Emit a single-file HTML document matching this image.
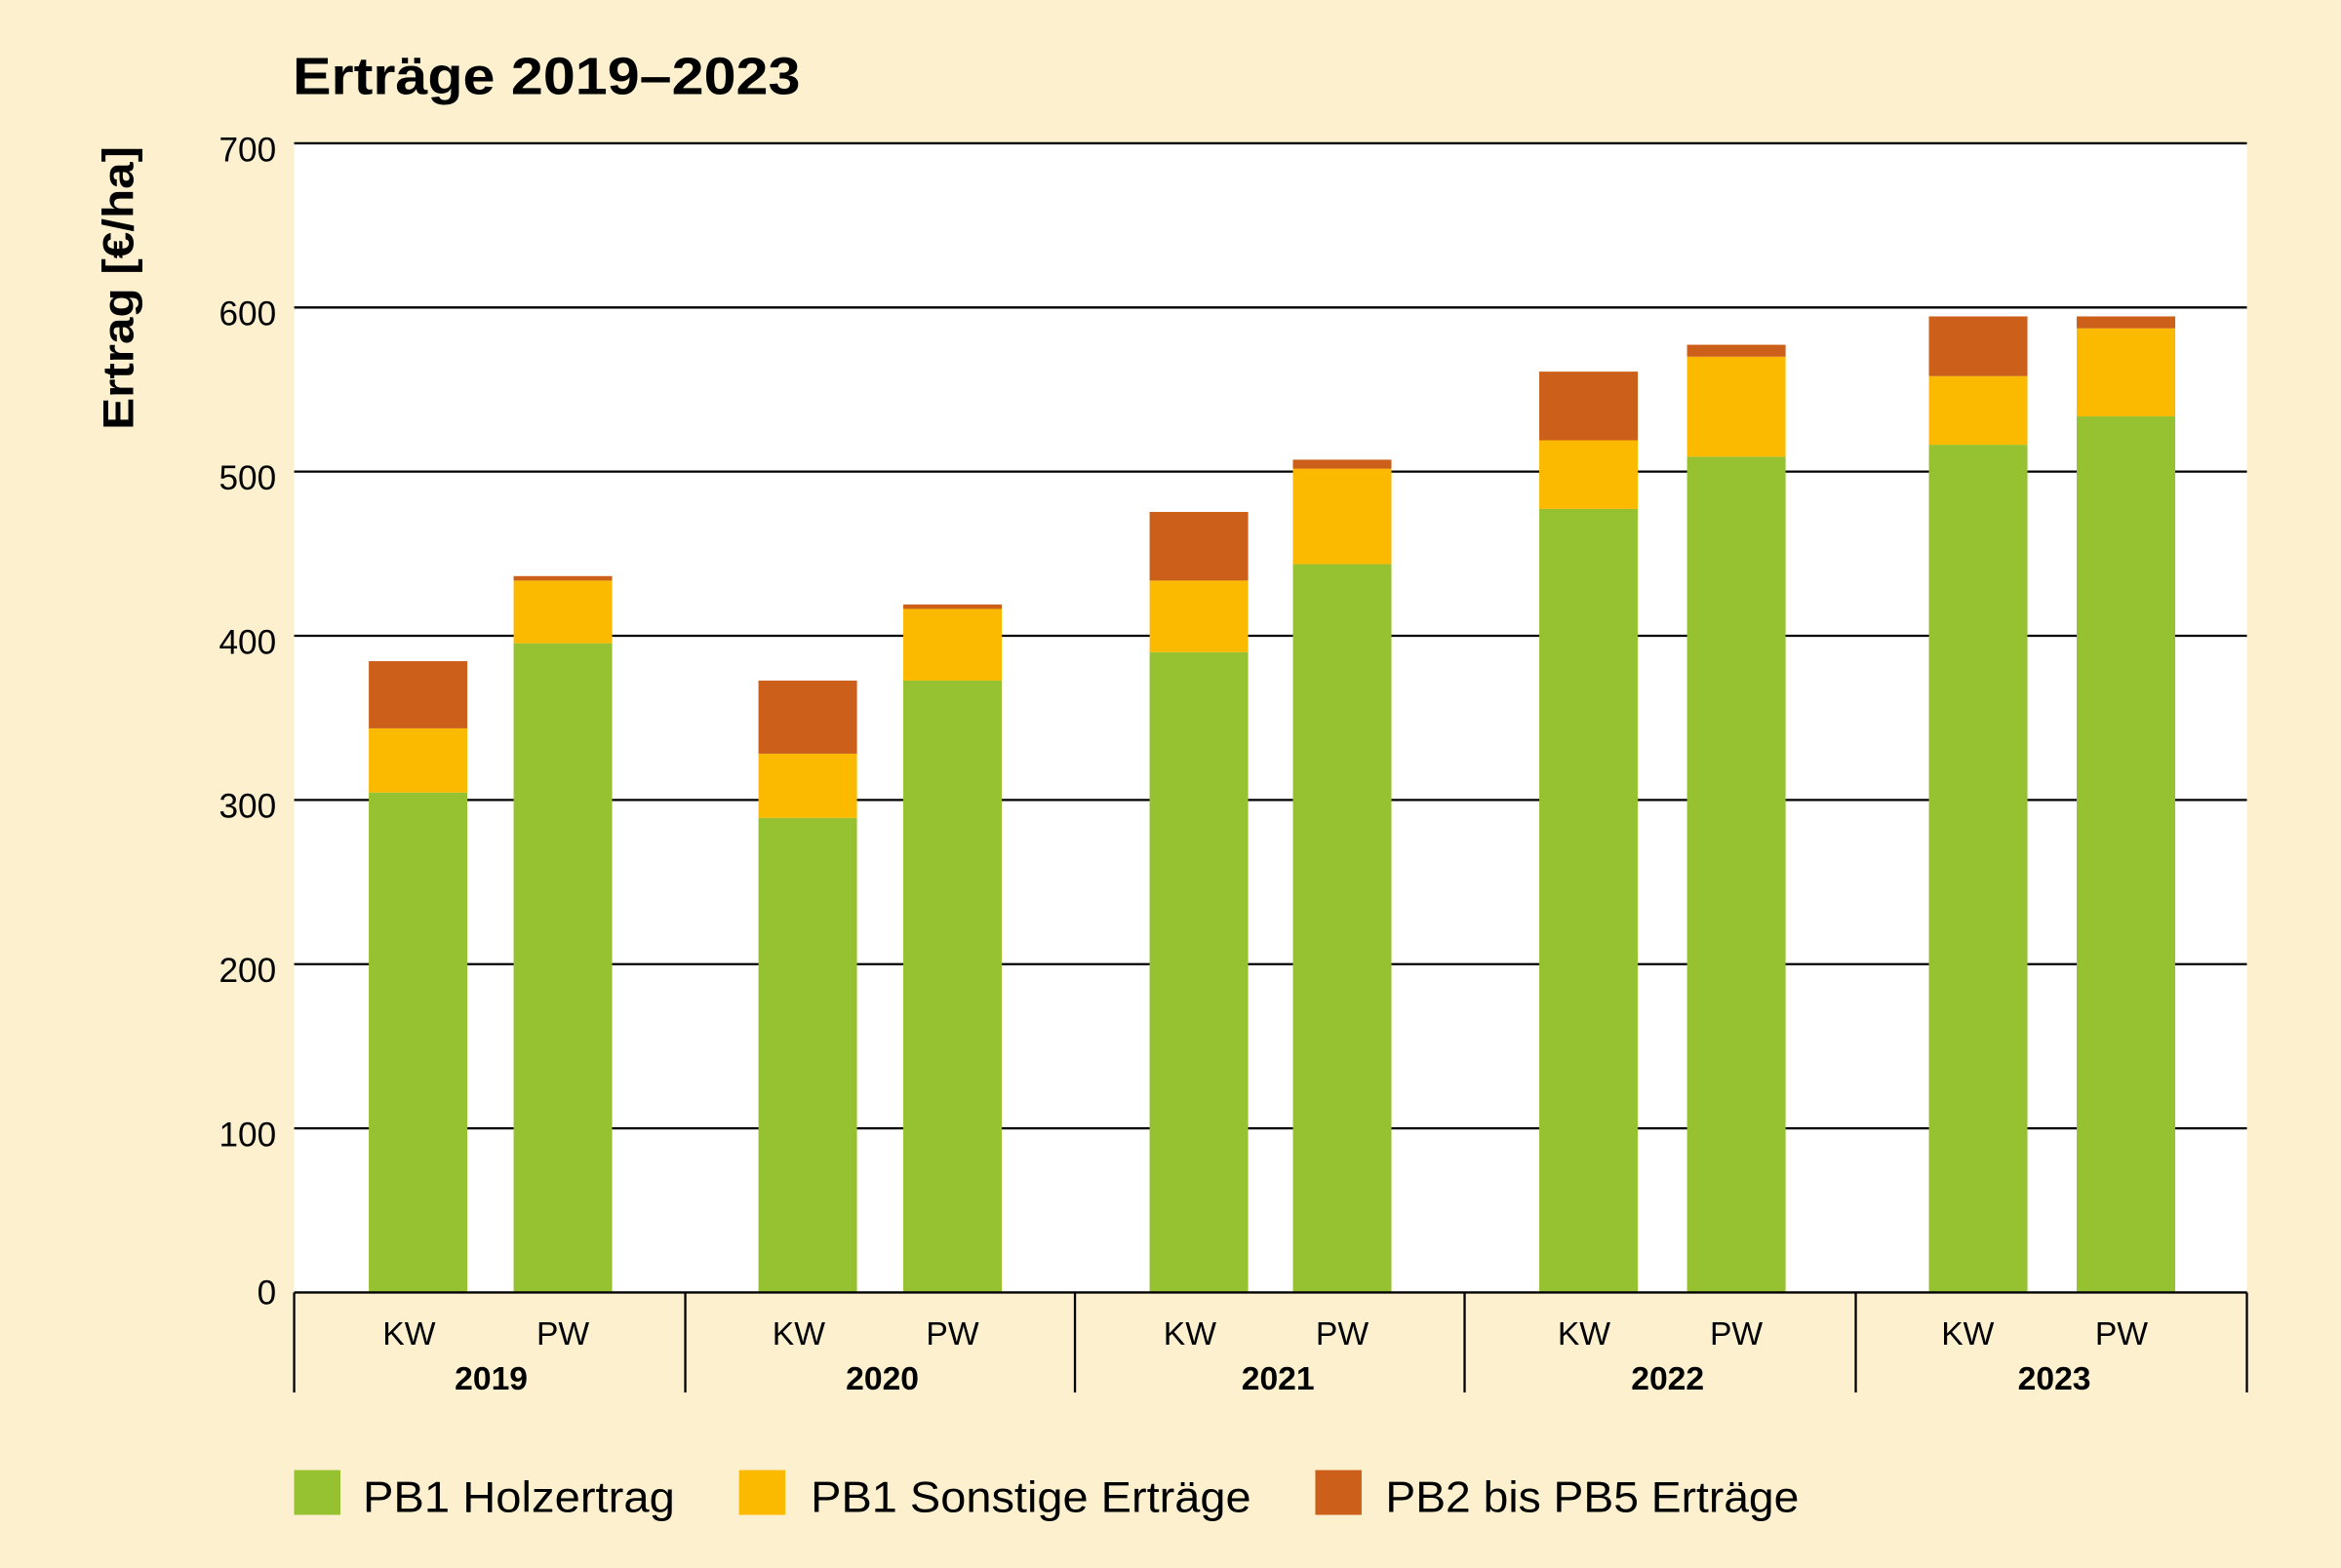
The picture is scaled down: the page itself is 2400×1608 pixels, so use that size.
<!DOCTYPE html>
<html><head><meta charset="utf-8"><style>
html,body{margin:0;padding:0;background:#fdf0cf;}
svg{display:block;}
text{font-family:"Liberation Sans","DejaVu Sans",sans-serif;fill:#000;}
</style></head><body>
<svg width="2400" height="1608" viewBox="0 0 1568 1050.6" xmlns="http://www.w3.org/2000/svg">
<rect x="0" y="0" width="1568" height="1051" fill="#fdf0cf"/>
<text x="196" y="63" font-size="35" font-weight="bold" textLength="340" lengthAdjust="spacingAndGlyphs">Erträge 2019–2023</text>
<rect x="197" y="96" width="1308" height="770" fill="#fff"/>
<g stroke="#000" stroke-width="1.5">
<line x1="197" y1="96" x2="1505" y2="96"/>
<line x1="197" y1="206" x2="1505" y2="206"/>
<line x1="197" y1="316" x2="1505" y2="316"/>
<line x1="197" y1="426" x2="1505" y2="426"/>
<line x1="197" y1="536" x2="1505" y2="536"/>
<line x1="197" y1="646" x2="1505" y2="646"/>
<line x1="197" y1="756" x2="1505" y2="756"/>
</g>
<g font-size="23" text-anchor="end">
<text x="185" y="108">700</text><text x="185" y="218">600</text><text x="185" y="328">500</text>
<text x="185" y="438">400</text><text x="185" y="548">300</text><text x="185" y="658">200</text>
<text x="185" y="768">100</text><text x="185" y="874">0</text>
</g>
<text transform="translate(89,193) rotate(-90)" font-size="29" font-weight="bold" text-anchor="middle" textLength="190" lengthAdjust="spacingAndGlyphs">Ertrag [€/ha]</text>
<g>
<rect x="247" y="531" width="66" height="335" fill="#96c131"/><rect x="247" y="488" width="66" height="43" fill="#fbb900"/><rect x="247" y="443" width="66" height="45" fill="#cc5f19"/>
<rect x="344" y="431" width="66" height="435" fill="#96c131"/><rect x="344" y="389" width="66" height="42" fill="#fbb900"/><rect x="344" y="386" width="66" height="3" fill="#cc5f19"/>
<rect x="508" y="548" width="66" height="318" fill="#96c131"/><rect x="508" y="505" width="66" height="43" fill="#fbb900"/><rect x="508" y="456" width="66" height="49" fill="#cc5f19"/>
<rect x="605" y="456" width="66" height="410" fill="#96c131"/><rect x="605" y="408" width="66" height="48" fill="#fbb900"/><rect x="605" y="405" width="66" height="3" fill="#cc5f19"/>
<rect x="770" y="437" width="66" height="429" fill="#96c131"/><rect x="770" y="389" width="66" height="48" fill="#fbb900"/><rect x="770" y="343" width="66" height="46" fill="#cc5f19"/>
<rect x="866" y="378" width="66" height="488" fill="#96c131"/><rect x="866" y="314" width="66" height="64" fill="#fbb900"/><rect x="866" y="308" width="66" height="6" fill="#cc5f19"/>
<rect x="1031" y="341" width="66" height="525" fill="#96c131"/><rect x="1031" y="295" width="66" height="46" fill="#fbb900"/><rect x="1031" y="249" width="66" height="46" fill="#cc5f19"/>
<rect x="1130" y="306" width="66" height="560" fill="#96c131"/><rect x="1130" y="239" width="66" height="67" fill="#fbb900"/><rect x="1130" y="231" width="66" height="8" fill="#cc5f19"/>
<rect x="1292" y="298" width="66" height="568" fill="#96c131"/><rect x="1292" y="252" width="66" height="46" fill="#fbb900"/><rect x="1292" y="212" width="66" height="40" fill="#cc5f19"/>
<rect x="1391" y="279" width="66" height="587" fill="#96c131"/><rect x="1391" y="220" width="66" height="59" fill="#fbb900"/><rect x="1391" y="212" width="66" height="8" fill="#cc5f19"/>
</g>
<g stroke="#000" stroke-width="1.5">
<line x1="197" y1="866" x2="1505" y2="866"/>
<line x1="197" y1="866" x2="197" y2="933"/><line x1="459" y1="866" x2="459" y2="933"/>
<line x1="720" y1="866" x2="720" y2="933"/><line x1="981" y1="866" x2="981" y2="933"/>
<line x1="1243" y1="866" x2="1243" y2="933"/><line x1="1505" y1="866" x2="1505" y2="933"/>
</g>
<g font-size="22" text-anchor="middle">
<text x="274" y="901">KW</text><text x="377" y="901">PW</text>
<text x="535" y="901">KW</text><text x="638" y="901">PW</text>
<text x="797" y="901">KW</text><text x="899" y="901">PW</text>
<text x="1061" y="901">KW</text><text x="1163" y="901">PW</text>
<text x="1318" y="901">KW</text><text x="1421" y="901">PW</text>
</g>
<g font-size="22" font-weight="bold" text-anchor="middle">
<text x="329" y="931">2019</text><text x="591" y="931">2020</text><text x="856" y="931">2021</text>
<text x="1117" y="931">2022</text><text x="1376" y="931">2023</text>
</g>
<rect x="197" y="985" width="31" height="30" fill="#96c131"/>
<text x="243" y="1013" font-size="29" textLength="209" lengthAdjust="spacingAndGlyphs">PB1 Holzertrag</text>
<rect x="495" y="985" width="31" height="30" fill="#fbb900"/>
<text x="543" y="1013" font-size="29" textLength="295" lengthAdjust="spacingAndGlyphs">PB1 Sonstige Erträge</text>
<rect x="881" y="985" width="31" height="30" fill="#cc5f19"/>
<text x="928" y="1013" font-size="29" textLength="277" lengthAdjust="spacingAndGlyphs">PB2 bis PB5 Erträge</text>
</svg>
</body></html>
